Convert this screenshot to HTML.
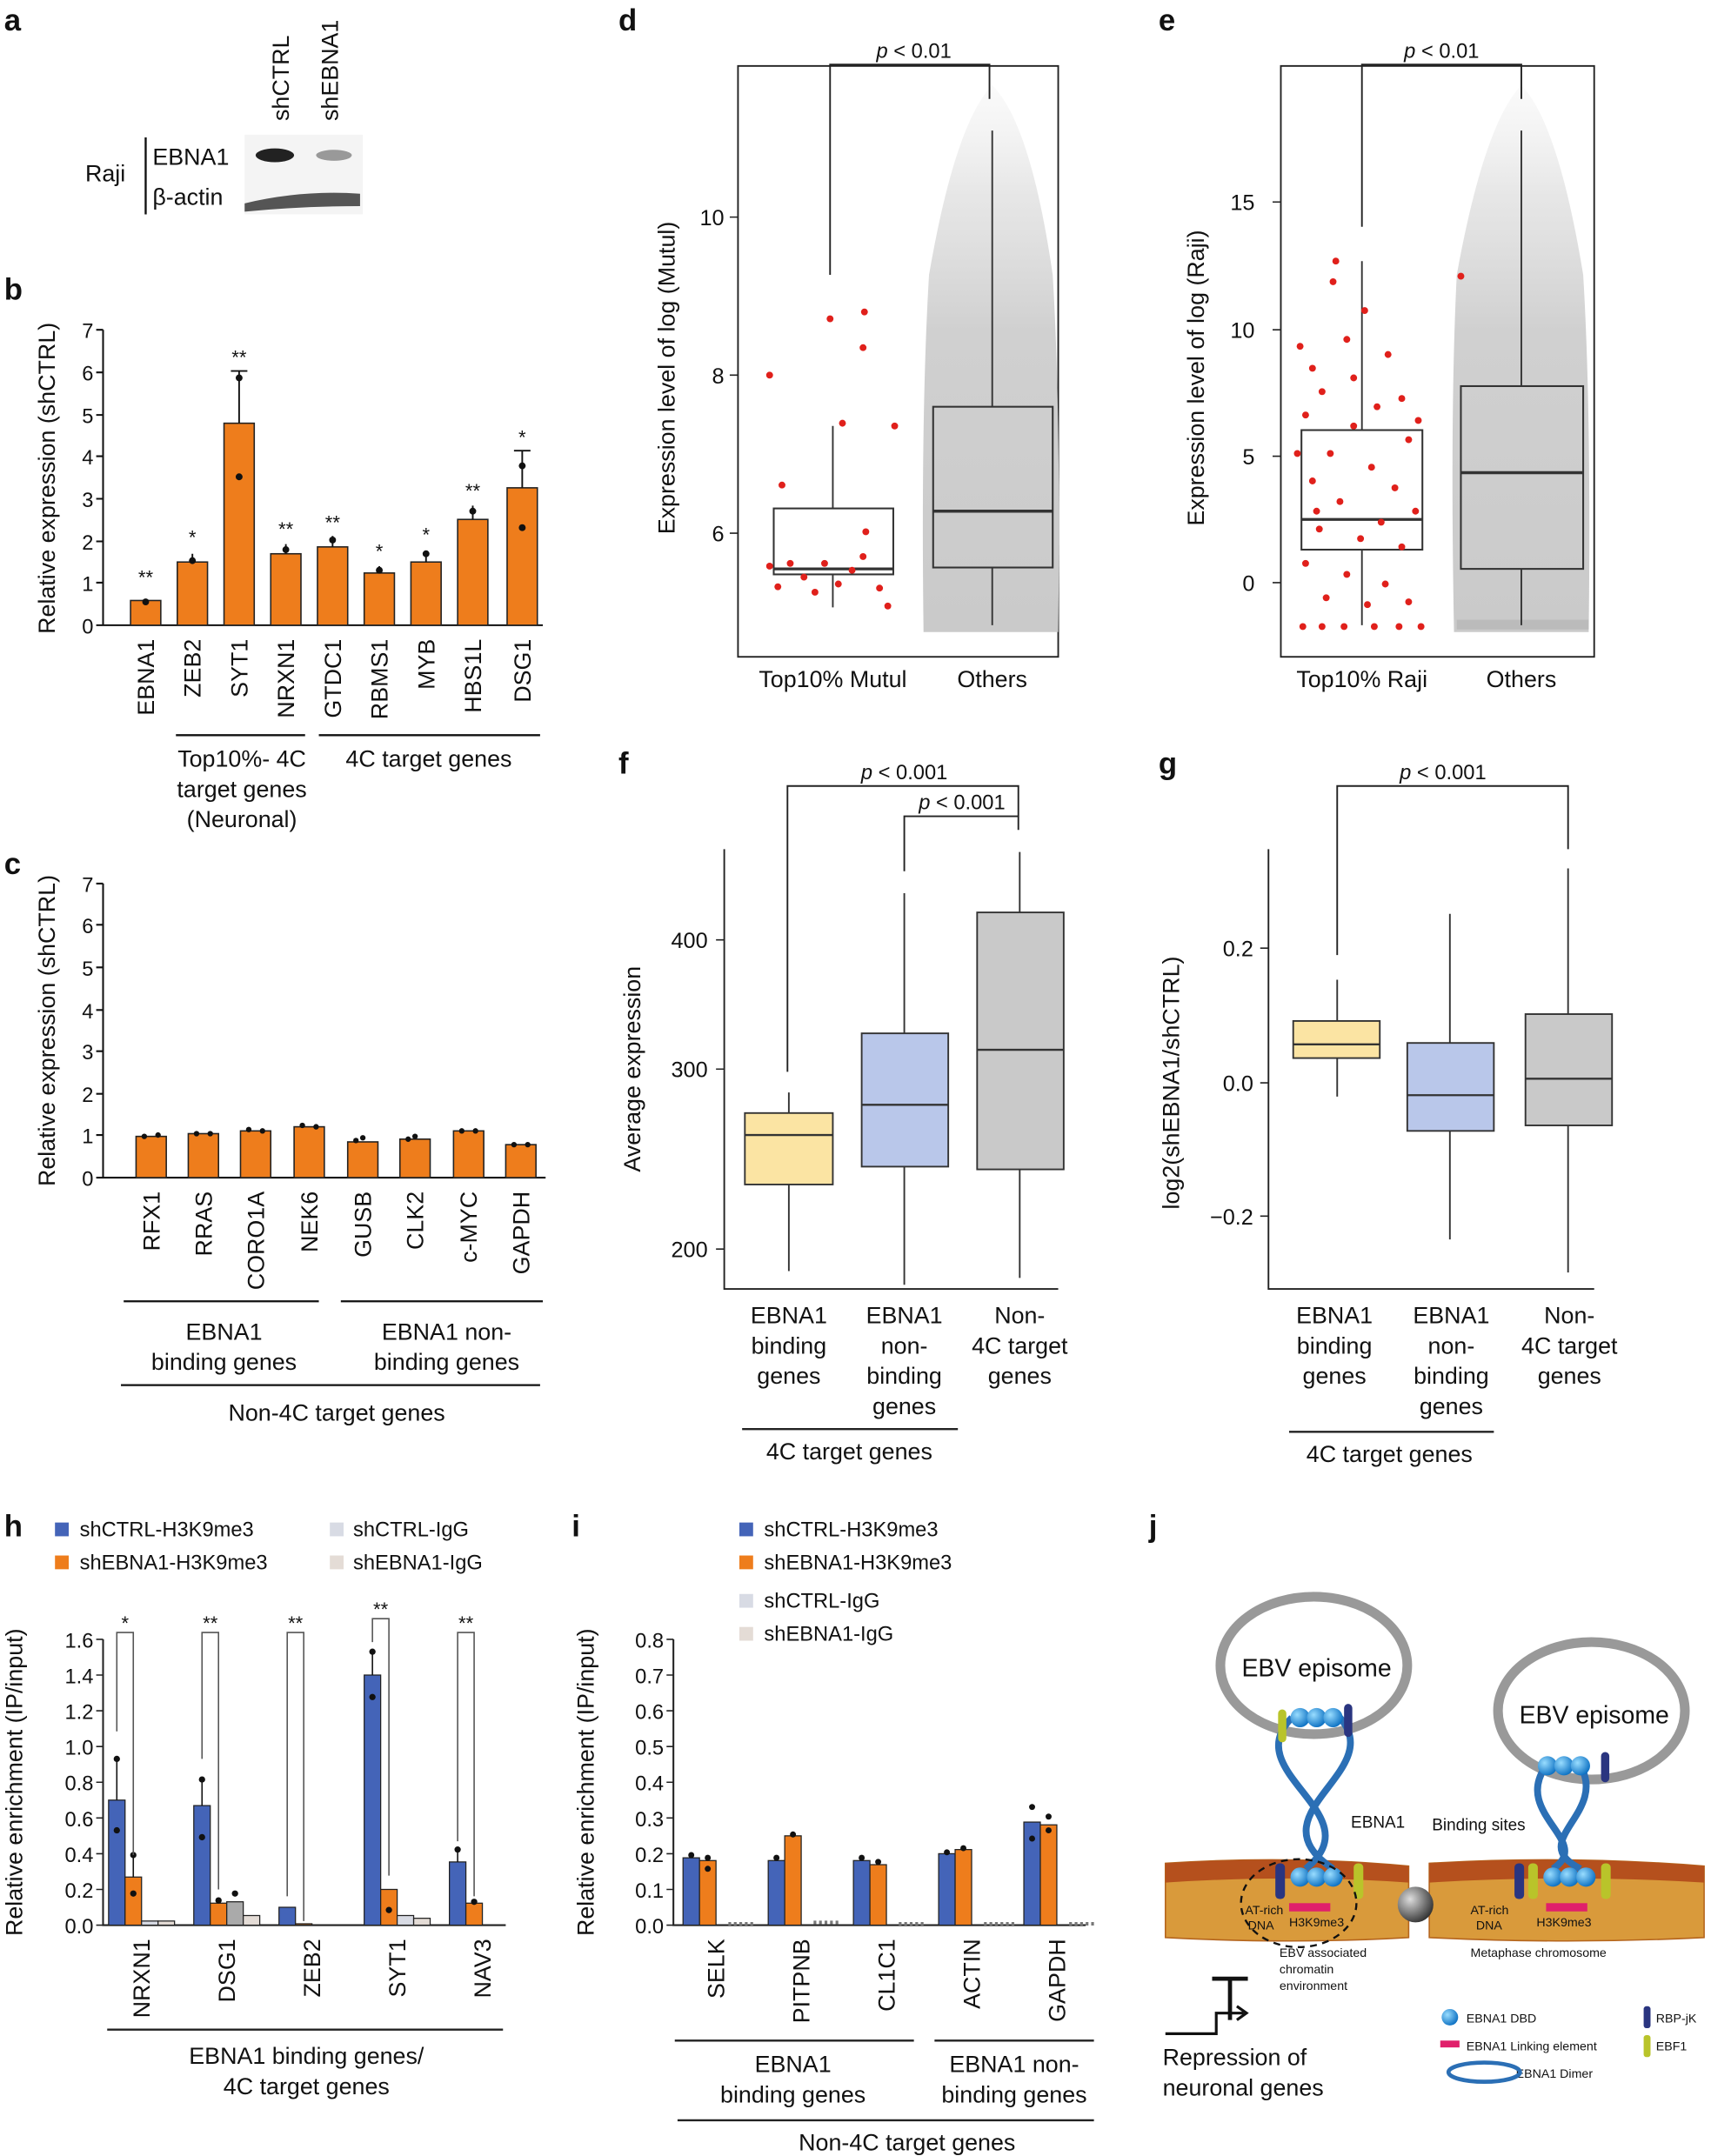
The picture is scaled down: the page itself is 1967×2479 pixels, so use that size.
<!DOCTYPE html>
<html><head><meta charset="utf-8"><style>
html,body{margin:0;padding:0;background:#fff}
svg{display:block}
text{font-family:"Liberation Sans",Arial,sans-serif;fill:#111}
</style></head><body>
<svg width="1967" height="2479" viewBox="0 0 1245 1569" preserveAspectRatio="none" xmlns="http://www.w3.org/2000/svg">
<defs>
<linearGradient id="cl" x1="0" y1="0" x2="0" y2="1">
<stop offset="0" stop-color="#e8e8e8" stop-opacity="0.2"/><stop offset="0.2" stop-color="#dcdcdc" stop-opacity="0.7"/><stop offset="0.45" stop-color="#d0d0d0" stop-opacity="1"/><stop offset="1" stop-color="#cacaca" stop-opacity="1"/>
</linearGradient>
<radialGradient id="ball" cx="0.35" cy="0.35" r="0.7"><stop offset="0" stop-color="#9df"/><stop offset="1" stop-color="#0a6fc2"/></radialGradient>
<radialGradient id="cen" cx="0.35" cy="0.35" r="0.7"><stop offset="0" stop-color="#ddd"/><stop offset="1" stop-color="#333"/></radialGradient>
</defs>
<g font-weight="bold" font-size="22">
<text x="3" y="22">a</text><text x="3" y="218">b</text><text x="3" y="636">c</text><text x="450" y="22">d</text><text x="843" y="22">e</text><text x="450" y="563">f</text><text x="843" y="563">g</text><text x="3" y="1118">h</text><text x="416" y="1118">i</text><text x="836" y="1118">j</text></g>

<!-- a -->
<g font-size="17">
<text transform="translate(210,88) rotate(-90)">shCTRL</text>
<text transform="translate(246,88) rotate(-90)">shEBNA1</text>
<text x="62" y="132">Raji</text>
<line x1="106" y1="100" x2="106" y2="156" stroke="#111" stroke-width="1.5"/>
<text x="111" y="120">EBNA1</text><text x="111" y="149">β-actin</text>
</g>
<rect x="178" y="98" width="86" height="58" fill="#f4f4f4"/>
<ellipse cx="200" cy="113" rx="14" ry="5" fill="#222"/>
<ellipse cx="243" cy="113" rx="13" ry="4" fill="#999"/>
<path d="M178 148 Q220 138 262 141 L262 150 Q220 150 178 154Z" fill="#555"/>

<!-- b -->
<g font-size="15" text-anchor="end">
<text x="68" y="461">0</text><text x="68" y="430">1</text><text x="68" y="400">2</text><text x="68" y="369">3</text><text x="68" y="338">4</text><text x="68" y="308">5</text><text x="68" y="277">6</text><text x="68" y="246">7</text></g>
<path d="M75 240V455H395M70 455H75M70 424H75M70 394H75M70 363H75M70 332H75M70 302H75M70 271H75M70 240H75" stroke="#111" fill="none" stroke-width="1.3"/>
<text transform="translate(40,348) rotate(-90)" font-size="17" text-anchor="middle">Relative expression (shCTRL)</text>
<g fill="#ee7d1c" stroke="#222" stroke-width="1">
<rect x="95" y="437" width="22" height="18"/><rect x="129" y="409" width="22" height="46"/><rect x="163" y="308" width="22" height="147"/><rect x="197" y="403" width="22" height="52"/><rect x="231" y="398" width="22" height="57"/><rect x="265" y="417" width="22" height="38"/><rect x="299" y="409" width="22" height="46"/><rect x="333" y="378" width="22" height="77"/><rect x="369" y="355" width="22" height="100"/></g>
<g stroke="#111" stroke-width="1.2"><path d="M174 308V270M168 270H180M140 409V403M208 403V396M242 398V390M276 417V412M310 409V401M344 378V368M380 355V328M374 328H386"/></g>
<g fill="#111"><circle cx="106" cy="438" r="2.5"/><circle cx="140" cy="408" r="2.5"/><circle cx="174" cy="275" r="2.5"/><circle cx="174" cy="347" r="2.5"/><circle cx="208" cy="400" r="2.5"/><circle cx="242" cy="393" r="2.5"/><circle cx="276" cy="415" r="2.5"/><circle cx="310" cy="403" r="2.5"/><circle cx="344" cy="372" r="2.5"/><circle cx="380" cy="339" r="2.5"/><circle cx="380" cy="384" r="2.5"/></g>
<g font-size="14" text-anchor="middle"><text x="106" y="425">**</text><text x="140" y="396">*</text><text x="174" y="265">**</text><text x="208" y="390">**</text><text x="242" y="385">**</text><text x="276" y="406">*</text><text x="310" y="394">*</text><text x="344" y="362">**</text><text x="380" y="323">*</text></g>
<g font-size="17" text-anchor="end">
<text transform="translate(112,465) rotate(-90)">EBNA1</text><text transform="translate(146,465) rotate(-90)">ZEB2</text><text transform="translate(180,465) rotate(-90)">SYT1</text><text transform="translate(214,465) rotate(-90)">NRXN1</text><text transform="translate(248,465) rotate(-90)">GTDC1</text><text transform="translate(282,465) rotate(-90)">RBMS1</text><text transform="translate(316,465) rotate(-90)">MYB</text><text transform="translate(350,465) rotate(-90)">HBS1L</text><text transform="translate(386,465) rotate(-90)">DSG1</text></g>
<path d="M128 535H222M232 535H393" stroke="#111" stroke-width="1.5"/>
<g font-size="17" text-anchor="middle"><text x="176" y="558">Top10%- 4C</text><text x="176" y="580">target genes</text><text x="176" y="602">(Neuronal)</text><text x="312" y="558">4C target genes</text></g>

<!-- c -->
<g font-size="15" text-anchor="end">
<text x="68" y="863">0</text><text x="68" y="832">1</text><text x="68" y="802">2</text><text x="68" y="771">3</text><text x="68" y="741">4</text><text x="68" y="710">5</text><text x="68" y="679">6</text><text x="68" y="649">7</text></g>
<path d="M75 643V857H397M70 857H75M70 826H75M70 796H75M70 765H75M70 735H75M70 704H75M70 673H75M70 643H75" stroke="#111" fill="none" stroke-width="1.3"/>
<text transform="translate(40,750) rotate(-90)" font-size="17" text-anchor="middle">Relative expression (shCTRL)</text>
<g fill="#ee7d1c" stroke="#222" stroke-width="1">
<rect x="99" y="827" width="22" height="30"/><rect x="137" y="825" width="22" height="32"/><rect x="175" y="823" width="22" height="34"/><rect x="214" y="820" width="22" height="37"/><rect x="253" y="831" width="22" height="26"/><rect x="291" y="829" width="22" height="28"/><rect x="330" y="823" width="22" height="34"/><rect x="368" y="833" width="22" height="24"/></g>
<g fill="#111"><circle cx="105" cy="827" r="2"/><circle cx="115" cy="826" r="2"/><circle cx="143" cy="825" r="2"/><circle cx="153" cy="825" r="2"/><circle cx="181" cy="822" r="2"/><circle cx="191" cy="823" r="2"/><circle cx="220" cy="819" r="2"/><circle cx="230" cy="820" r="2"/><circle cx="259" cy="830" r="2"/><circle cx="264" cy="828" r="2"/><circle cx="297" cy="829" r="2"/><circle cx="302" cy="827" r="2"/><circle cx="336" cy="823" r="2"/><circle cx="346" cy="823" r="2"/><circle cx="374" cy="833" r="2"/><circle cx="384" cy="833" r="2"/></g>
<g font-size="17" text-anchor="end">
<text transform="translate(116,867) rotate(-90)">RFX1</text><text transform="translate(154,867) rotate(-90)">RRAS</text><text transform="translate(192,867) rotate(-90)">CORO1A</text><text transform="translate(231,867) rotate(-90)">NEK6</text><text transform="translate(270,867) rotate(-90)">GUSB</text><text transform="translate(308,867) rotate(-90)">CLK2</text><text transform="translate(347,867) rotate(-90)">c-MYC</text><text transform="translate(385,867) rotate(-90)">GAPDH</text></g>
<path d="M90 947H232M248 947H395M88 1008H393" stroke="#111" stroke-width="1.5"/>
<g font-size="17" text-anchor="middle"><text x="163" y="975">EBNA1</text><text x="163" y="997">binding genes</text><text x="325" y="975">EBNA1 non-</text><text x="325" y="997">binding genes</text><text x="245" y="1034">Non-4C target genes</text></g>

<!-- d -->
<rect x="537" y="48" width="233" height="430" fill="none" stroke="#222" stroke-width="1.2"/>
<path d="M672 460 Q670 300 676 200 Q695 90 722 62 Q750 90 766 200 Q772 300 770 460Z" fill="url(#cl)"/>
<rect x="679" y="296" width="87" height="117" fill="none" stroke="#333" stroke-width="1.3"/>
<path d="M679 372H766" stroke="#333" stroke-width="2.2"/>
<path d="M722 296V95M722 413V455" stroke="#333" stroke-width="1.2"/>
<rect x="563" y="370" width="87" height="48" fill="none" stroke="#333" stroke-width="1.3"/>
<path d="M563 414H650" stroke="#333" stroke-width="2"/>
<path d="M606 370V310M606 418V442" stroke="#333" stroke-width="1.2"/>
<g fill="#e0201b"><circle cx="560" cy="273" r="2.5"/><circle cx="604" cy="232" r="2.5"/><circle cx="629" cy="227" r="2.5"/><circle cx="628" cy="253" r="2.5"/><circle cx="613" cy="308" r="2.5"/><circle cx="651" cy="310" r="2.5"/><circle cx="569" cy="353" r="2.5"/><circle cx="630" cy="387" r="2.5"/><circle cx="566" cy="427" r="2.5"/><circle cx="585" cy="420" r="2.5"/><circle cx="600" cy="410" r="2.5"/><circle cx="620" cy="415" r="2.5"/><circle cx="640" cy="428" r="2.5"/><circle cx="646" cy="441" r="2.5"/><circle cx="575" cy="410" r="2.5"/><circle cx="610" cy="425" r="2.5"/><circle cx="593" cy="431" r="2.5"/><circle cx="628" cy="405" r="2.5"/><circle cx="560" cy="412" r="2.5"/></g>
<g font-size="16" text-anchor="end"><text x="527" y="164">10</text><text x="527" y="279">8</text><text x="527" y="394">6</text></g>
<path d="M531 158H537M531 273H537M531 388H537" stroke="#222"/>
<text transform="translate(491,275) rotate(-90)" font-size="17" text-anchor="middle">Expression level of log (Mutul)</text>
<path d="M604 200V47H720V72" stroke="#222" fill="none" stroke-width="1.2"/>
<text x="665" y="42" font-size="15" text-anchor="middle"><tspan font-style="italic">p</tspan> &lt; 0.01</text>
<g font-size="17" text-anchor="middle"><text x="606" y="500">Top10% Mutul</text><text x="722" y="500">Others</text></g>

<!-- e -->
<rect x="932" y="48" width="228" height="430" fill="none" stroke="#222" stroke-width="1.2"/>
<path d="M1058 460 Q1055 300 1060 200 Q1080 90 1107 62 Q1134 90 1152 200 Q1158 300 1156 460Z" fill="url(#cl)"/>
<rect x="1060" y="451" width="96" height="7" fill="#bbb"/>
<rect x="1063" y="281" width="89" height="133" fill="none" stroke="#333" stroke-width="1.3"/>
<path d="M1063 344H1152" stroke="#333" stroke-width="2.2"/>
<path d="M1107 281V95M1107 414V455" stroke="#333" stroke-width="1.2"/>
<rect x="947" y="313" width="88" height="87" fill="none" stroke="#333" stroke-width="1.3"/>
<path d="M947 378H1035" stroke="#333" stroke-width="2"/>
<path d="M991 313V190M991 400V455" stroke="#333" stroke-width="1.2"/>
<g fill="#e0201b">
<circle cx="972" cy="190" r="2.5"/><circle cx="970" cy="205" r="2.5"/><circle cx="1063" cy="201" r="2.5"/><circle cx="946" cy="252" r="2.5"/><circle cx="955" cy="268" r="2.5"/><circle cx="993" cy="226" r="2.5"/><circle cx="980" cy="247" r="2.5"/><circle cx="1010" cy="258" r="2.5"/><circle cx="962" cy="285" r="2.5"/><circle cx="1020" cy="290" r="2.5"/><circle cx="1002" cy="296" r="2.5"/><circle cx="950" cy="302" r="2.5"/><circle cx="985" cy="310" r="2.5"/><circle cx="1025" cy="320" r="2.5"/><circle cx="968" cy="330" r="2.5"/><circle cx="998" cy="340" r="2.5"/><circle cx="955" cy="350" r="2.5"/><circle cx="1015" cy="355" r="2.5"/><circle cx="975" cy="365" r="2.5"/><circle cx="1030" cy="372" r="2.5"/><circle cx="960" cy="385" r="2.5"/><circle cx="990" cy="392" r="2.5"/><circle cx="1020" cy="398" r="2.5"/><circle cx="950" cy="410" r="2.5"/><circle cx="980" cy="418" r="2.5"/><circle cx="1008" cy="425" r="2.5"/><circle cx="965" cy="435" r="2.5"/><circle cx="995" cy="440" r="2.5"/><circle cx="1025" cy="438" r="2.5"/><circle cx="948" cy="456" r="2.5"/><circle cx="962" cy="456" r="2.5"/><circle cx="978" cy="456" r="2.5"/><circle cx="1000" cy="456" r="2.5"/><circle cx="1018" cy="456" r="2.5"/><circle cx="1034" cy="456" r="2.5"/><circle cx="944" cy="330" r="2.5"/><circle cx="1032" cy="306" r="2.5"/><circle cx="985" cy="275" r="2.5"/><circle cx="1005" cy="380" r="2.5"/><circle cx="958" cy="372" r="2.5"/></g>
<g font-size="16" text-anchor="end"><text x="913" y="153">15</text><text x="913" y="246">10</text><text x="913" y="338">5</text><text x="913" y="430">0</text></g>
<path d="M926 147H932M926 240H932M926 332H932M926 424H932" stroke="#222"/>
<text transform="translate(876,275) rotate(-90)" font-size="17" text-anchor="middle">Expression level of log (Raji)</text>
<path d="M991 165V47H1107V72" stroke="#222" fill="none" stroke-width="1.2"/>
<text x="1049" y="42" font-size="15" text-anchor="middle"><tspan font-style="italic">p</tspan> &lt; 0.01</text>
<g font-size="17" text-anchor="middle"><text x="991" y="500">Top10% Raji</text><text x="1107" y="500">Others</text></g>

<!-- f -->
<path d="M527 618V938H770" stroke="#222" fill="none" stroke-width="1.2"/>
<path d="M521 684H527M521 778H527M521 909H527" stroke="#222"/>
<g font-size="16" text-anchor="end"><text x="515" y="690">400</text><text x="515" y="784">300</text><text x="515" y="915">200</text></g>
<text transform="translate(466,778) rotate(-90)" font-size="17" text-anchor="middle">Average expression</text>
<path d="M574 795V925M658 650V935M742 620V930" stroke="#333" stroke-width="1.2"/>
<rect x="542" y="810" width="64" height="52" fill="#fbe4a3" stroke="#333" stroke-width="1.2"/><path d="M542 826H606" stroke="#333" stroke-width="1.5"/>
<rect x="627" y="752" width="63" height="97" fill="#b9c7ea" stroke="#333" stroke-width="1.2"/><path d="M627 804H690" stroke="#333" stroke-width="1.5"/>
<rect x="711" y="664" width="63" height="187" fill="#c9c9c9" stroke="#333" stroke-width="1.2"/><path d="M711 764H774" stroke="#333" stroke-width="1.5"/>
<path d="M573 780V572H741V604M658 634V594H741" stroke="#222" fill="none" stroke-width="1.2"/>
<g font-size="15" text-anchor="middle"><text x="658" y="567"><tspan font-style="italic">p</tspan> &lt; 0.001</text><text x="700" y="589"><tspan font-style="italic">p</tspan> &lt; 0.001</text></g>
<g font-size="17" text-anchor="middle"><text x="574" y="963">EBNA1</text><text x="574" y="985">binding</text><text x="574" y="1007">genes</text><text x="658" y="963">EBNA1</text><text x="658" y="985">non-</text><text x="658" y="1007">binding</text><text x="658" y="1029">genes</text><text x="742" y="963">Non-</text><text x="742" y="985">4C target</text><text x="742" y="1007">genes</text><text x="618" y="1062">4C target genes</text></g>
<path d="M540 1040H697" stroke="#222" stroke-width="1.5"/>

<!-- g -->
<path d="M923 618V938H1160" stroke="#222" fill="none" stroke-width="1.2"/>
<path d="M917 690H923M917 788H923M917 885H923" stroke="#222"/>
<g font-size="16" text-anchor="end"><text x="912" y="696">0.2</text><text x="912" y="794">0.0</text><text x="912" y="891">−0.2</text></g>
<text transform="translate(858,788) rotate(-90)" font-size="17" text-anchor="middle">log2(shEBNA1/shCTRL)</text>
<path d="M973 713V798M1055 665V902M1141 632V926" stroke="#333" stroke-width="1.2"/>
<rect x="941" y="743" width="63" height="27" fill="#fbe4a3" stroke="#333" stroke-width="1.2"/><path d="M941 760H1004" stroke="#333" stroke-width="1.5"/>
<rect x="1024" y="759" width="63" height="64" fill="#b9c7ea" stroke="#333" stroke-width="1.2"/><path d="M1024 797H1087" stroke="#333" stroke-width="1.5"/>
<rect x="1110" y="738" width="63" height="81" fill="#c9c9c9" stroke="#333" stroke-width="1.2"/><path d="M1110 785H1173" stroke="#333" stroke-width="1.5"/>
<path d="M973 695V572H1141V618" stroke="#222" fill="none" stroke-width="1.2"/>
<text x="1050" y="567" font-size="15" text-anchor="middle"><tspan font-style="italic">p</tspan> &lt; 0.001</text>
<g font-size="17" text-anchor="middle"><text x="971" y="963">EBNA1</text><text x="971" y="985">binding</text><text x="971" y="1007">genes</text><text x="1056" y="963">EBNA1</text><text x="1056" y="985">non-</text><text x="1056" y="1007">binding</text><text x="1056" y="1029">genes</text><text x="1142" y="963">Non-</text><text x="1142" y="985">4C target</text><text x="1142" y="1007">genes</text><text x="1011" y="1064">4C target genes</text></g>
<path d="M938 1042H1087" stroke="#222" stroke-width="1.5"/>

<!-- h -->
<g font-size="15"><rect x="40" y="1108" width="10" height="10" fill="#4464b8"/><text x="58" y="1118">shCTRL-H3K9me3</text>
<rect x="40" y="1132" width="10" height="10" fill="#ee7d1c"/><text x="58" y="1142">shEBNA1-H3K9me3</text>
<rect x="240" y="1108" width="10" height="10" fill="#d8dbe4"/><text x="257" y="1118">shCTRL-IgG</text>
<rect x="240" y="1132" width="10" height="10" fill="#e4dcd6"/><text x="257" y="1142">shEBNA1-IgG</text></g>
<path d="M75 1193V1401H368" stroke="#222" fill="none" stroke-width="1.3"/>
<g font-size="15" text-anchor="end"><text x="68" y="1407">0.0</text><text x="68" y="1381">0.2</text><text x="68" y="1355">0.4</text><text x="68" y="1329">0.6</text><text x="68" y="1303">0.8</text><text x="68" y="1277">1.0</text><text x="68" y="1251">1.2</text><text x="68" y="1225">1.4</text><text x="68" y="1199">1.6</text></g>
<path d="M70 1401H75M70 1375H75M70 1349H75M70 1323H75M70 1297H75M70 1271H75M70 1245H75M70 1219H75M70 1193H75" stroke="#222"/>
<text transform="translate(16,1297) rotate(-90)" font-size="17" text-anchor="middle">Relative enrichment (IP/input)</text>
<g stroke="#222" stroke-width="0.8">
<rect x="79" y="1310" width="12" height="91" fill="#4464b8"/><rect x="91" y="1366" width="12" height="35" fill="#ee7d1c"/><rect x="103" y="1398" width="12" height="3" fill="#d8dbe4"/><rect x="115" y="1398" width="12" height="3" fill="#e4dcd6"/>
<rect x="141" y="1314" width="12" height="87" fill="#4464b8"/><rect x="153" y="1385" width="12" height="16" fill="#ee7d1c"/><rect x="165" y="1384" width="12" height="17" fill="#aaa"/><rect x="177" y="1394" width="12" height="7" fill="#e4dcd6"/>
<rect x="203" y="1388" width="12" height="13" fill="#4464b8"/><rect x="215" y="1400" width="12" height="1" fill="#ee7d1c"/>
<rect x="265" y="1219" width="12" height="182" fill="#4464b8"/><rect x="277" y="1375" width="12" height="26" fill="#ee7d1c"/><rect x="289" y="1394" width="12" height="7" fill="#d8dbe4"/><rect x="301" y="1396" width="12" height="5" fill="#e4dcd6"/>
<rect x="327" y="1355" width="12" height="46" fill="#4464b8"/><rect x="339" y="1385" width="12" height="16" fill="#ee7d1c"/></g>
<path d="M85 1310V1280M97 1366V1350M147 1314V1295M271 1219V1200M333 1355V1345" stroke="#111"/>
<g fill="#111"><circle cx="85" cy="1280" r="2.3"/><circle cx="85" cy="1332" r="2.3"/><circle cx="97" cy="1350" r="2.3"/><circle cx="97" cy="1378" r="2.3"/><circle cx="147" cy="1295" r="2.3"/><circle cx="147" cy="1337" r="2.3"/><circle cx="159" cy="1383" r="2.3"/><circle cx="171" cy="1378" r="2.3"/><circle cx="271" cy="1202" r="2.3"/><circle cx="271" cy="1235" r="2.3"/><circle cx="283" cy="1390" r="2.3"/><circle cx="333" cy="1346" r="2.3"/><circle cx="345" cy="1384" r="2.3"/></g>
<path d="M85 1260V1188H97V1350M147 1280V1188H159V1375M209 1380V1188H221V1398M271 1195V1178H283V1365M333 1340V1188H345V1380" stroke="#555" fill="none" stroke-width="1"/>
<g font-size="14" text-anchor="middle"><text x="91" y="1186">*</text><text x="153" y="1186">**</text><text x="215" y="1186">**</text><text x="277" y="1176">**</text><text x="339" y="1186">**</text></g>
<g font-size="17" text-anchor="end"><text transform="translate(109,1411) rotate(-90)">NRXN1</text><text transform="translate(171,1411) rotate(-90)">DSG1</text><text transform="translate(233,1411) rotate(-90)">ZEB2</text><text transform="translate(295,1411) rotate(-90)">SYT1</text><text transform="translate(357,1411) rotate(-90)">NAV3</text></g>
<path d="M78 1477H366" stroke="#222" stroke-width="1.5"/>
<g font-size="17" text-anchor="middle"><text x="223" y="1502">EBNA1 binding genes/</text><text x="223" y="1524">4C target genes</text></g>

<!-- i -->
<g font-size="15"><rect x="538" y="1108" width="10" height="10" fill="#4464b8"/><text x="556" y="1118">shCTRL-H3K9me3</text>
<rect x="538" y="1132" width="10" height="10" fill="#ee7d1c"/><text x="556" y="1142">shEBNA1-H3K9me3</text>
<rect x="538" y="1160" width="10" height="10" fill="#d8dbe4"/><text x="556" y="1170">shCTRL-IgG</text>
<rect x="538" y="1184" width="10" height="10" fill="#e4dcd6"/><text x="556" y="1194">shEBNA1-IgG</text></g>
<path d="M490 1193V1401H790" stroke="#222" fill="none" stroke-width="1.3"/>
<g font-size="15" text-anchor="end"><text x="483" y="1407">0.0</text><text x="483" y="1381">0.1</text><text x="483" y="1355">0.2</text><text x="483" y="1329">0.3</text><text x="483" y="1303">0.4</text><text x="483" y="1277">0.5</text><text x="483" y="1251">0.6</text><text x="483" y="1225">0.7</text><text x="483" y="1199">0.8</text></g>
<path d="M485 1401H490M485 1375H490M485 1349H490M485 1323H490M485 1297H490M485 1271H490M485 1245H490M485 1219H490M485 1193H490" stroke="#222"/>
<text transform="translate(432,1297) rotate(-90)" font-size="17" text-anchor="middle">Relative enrichment (IP/input)</text>
<g stroke="#222" stroke-width="0.8">
<rect x="497" y="1352" width="12" height="49" fill="#4464b8"/><rect x="509" y="1354" width="12" height="47" fill="#ee7d1c"/>
<rect x="559" y="1354" width="12" height="47" fill="#4464b8"/><rect x="571" y="1336" width="12" height="65" fill="#ee7d1c"/>
<rect x="621" y="1354" width="12" height="47" fill="#4464b8"/><rect x="633" y="1357" width="12" height="44" fill="#ee7d1c"/>
<rect x="683" y="1349" width="12" height="52" fill="#4464b8"/><rect x="695" y="1346" width="12" height="55" fill="#ee7d1c"/>
<rect x="745" y="1326" width="12" height="75" fill="#4464b8"/><rect x="757" y="1328" width="12" height="73" fill="#ee7d1c"/></g>
<g fill="#111"><circle cx="503" cy="1350" r="2.2"/><circle cx="515" cy="1352" r="2.2"/><circle cx="515" cy="1360" r="2.2"/><circle cx="565" cy="1352" r="2.2"/><circle cx="577" cy="1335" r="2.2"/><circle cx="627" cy="1352" r="2.2"/><circle cx="639" cy="1355" r="2.2"/><circle cx="689" cy="1348" r="2.2"/><circle cx="701" cy="1345" r="2.2"/><circle cx="751" cy="1315" r="2.2"/><circle cx="751" cy="1338" r="2.2"/><circle cx="763" cy="1322" r="2.2"/><circle cx="763" cy="1332" r="2.2"/></g>
<path d="M530 1400H550M592 1399H612M654 1400H674M716 1400H740M778 1400H796" stroke="#777" stroke-width="2.5" stroke-dasharray="2 2"/>
<g font-size="17" text-anchor="end"><text transform="translate(527,1411) rotate(-90)">SELK</text><text transform="translate(589,1411) rotate(-90)">PITPNB</text><text transform="translate(651,1411) rotate(-90)">CL1C1</text><text transform="translate(713,1411) rotate(-90)">ACTIN</text><text transform="translate(775,1411) rotate(-90)">GAPDH</text></g>
<path d="M491 1485H665M680 1485H796M493 1543H796" stroke="#222" stroke-width="1.5"/>
<g font-size="17" text-anchor="middle"><text x="577" y="1508">EBNA1</text><text x="577" y="1530">binding genes</text><text x="738" y="1508">EBNA1 non-</text><text x="738" y="1530">binding genes</text><text x="660" y="1565">Non-4C target genes</text></g>

<!-- j -->
<ellipse cx="956" cy="1212" rx="68" ry="50" fill="none" stroke="#999" stroke-width="7"/>
<ellipse cx="1158" cy="1245" rx="68" ry="50" fill="none" stroke="#999" stroke-width="7"/>
<text x="958" y="1220" font-size="18" text-anchor="middle">EBV episome</text>
<text x="1160" y="1254" font-size="18" text-anchor="middle">EBV episome</text>
<path d="M848 1356 Q940 1350 1025 1358 L1025 1410 Q940 1415 848 1410 Z" fill="#d99a3b" stroke="#b5651d"/>
<path d="M1040 1356 Q1140 1350 1240 1358 L1240 1410 Q1140 1415 1040 1410 Z" fill="#d99a3b" stroke="#b5651d"/>
<path d="M848 1356 Q940 1350 1025 1358 L1025 1370 Q940 1364 848 1370Z M1040 1356 Q1140 1350 1240 1358 L1240 1370 Q1140 1364 1040 1370Z" fill="#b5501d"/>
<circle cx="1030" cy="1386" r="13" fill="url(#cen)"/>
<path d="M940 1250 C900 1290 1000 1320 950 1360 M975 1250 C1010 1290 910 1320 970 1360" stroke="#2b6fb5" stroke-width="5" fill="none"/>
<path d="M1125 1285 C1100 1320 1160 1340 1130 1360 M1150 1285 C1170 1320 1110 1340 1150 1360" stroke="#2b6fb5" stroke-width="5" fill="none"/>
<g fill="url(#ball)"><circle cx="946" cy="1250" r="7"/><circle cx="958" cy="1250" r="7"/><circle cx="970" cy="1250" r="7"/><circle cx="946" cy="1366" r="7"/><circle cx="958" cy="1366" r="7"/><circle cx="970" cy="1366" r="7"/><circle cx="1126" cy="1285" r="7"/><circle cx="1138" cy="1285" r="7"/><circle cx="1150" cy="1285" r="7"/><circle cx="1130" cy="1366" r="7"/><circle cx="1142" cy="1366" r="7"/><circle cx="1154" cy="1366" r="7"/><circle cx="1055" cy="1468" r="6"/></g>
<g fill="#2a3580"><rect x="978" y="1240" width="6" height="24" rx="3"/><rect x="928" y="1356" width="7" height="26" rx="3"/><rect x="1102" y="1356" width="7" height="26" rx="3"/><rect x="1165" y="1275" width="6" height="22" rx="3"/><rect x="1196" y="1460" width="5" height="16" rx="2"/></g>
<g fill="#b9c42a"><rect x="930" y="1244" width="6" height="24" rx="3"/><rect x="985" y="1356" width="7" height="26" rx="3"/><rect x="1112" y="1356" width="7" height="26" rx="3"/><rect x="1165" y="1356" width="7" height="26" rx="3"/><rect x="1196" y="1481" width="5" height="16" rx="2"/></g>
<rect x="938" y="1385" width="30" height="6" fill="#e0206b"/><rect x="1125" y="1385" width="30" height="6" fill="#e0206b"/>
<ellipse cx="945" cy="1385" rx="42" ry="32" fill="none" stroke="#111" stroke-dasharray="5 4" stroke-width="1.5"/>
<g font-size="9"><text x="906" y="1393">AT-rich</text><text x="908" y="1404">DNA</text><text x="938" y="1402">H3K9me3</text><text x="1070" y="1393">AT-rich</text><text x="1074" y="1404">DNA</text><text x="1118" y="1402">H3K9me3</text>
<text x="931" y="1424">EBV associated</text><text x="931" y="1436">chromatin</text><text x="931" y="1448">environment</text><text x="1070" y="1424">Metaphase chromosome</text>
<text x="1067" y="1472">EBNA1 DBD</text><text x="1067" y="1492">EBNA1 Linking element</text><text x="1103" y="1512">EBNA1 Dimer</text><text x="1205" y="1472">RBP-jK</text><text x="1205" y="1492">EBF1</text></g>
<g font-size="12"><text x="983" y="1330">EBNA1</text><text x="1042" y="1332">Binding sites</text></g>
<rect x="1048" y="1485" width="14" height="5" fill="#e0206b"/>
<ellipse cx="1080" cy="1508" rx="26" ry="7" fill="none" stroke="#2b6fb5" stroke-width="3"/>
<path d="M895 1440V1470" stroke="#111" stroke-width="3"/><path d="M882 1440H908" stroke="#111" stroke-width="3"/>
<path d="M848 1480H885V1465H905M900 1460L907 1465L900 1470" stroke="#111" stroke-width="2" fill="none"/>
<g font-size="17"><text x="846" y="1503">Repression of</text><text x="846" y="1525">neuronal genes</text></g>
</svg>
</body></html>
